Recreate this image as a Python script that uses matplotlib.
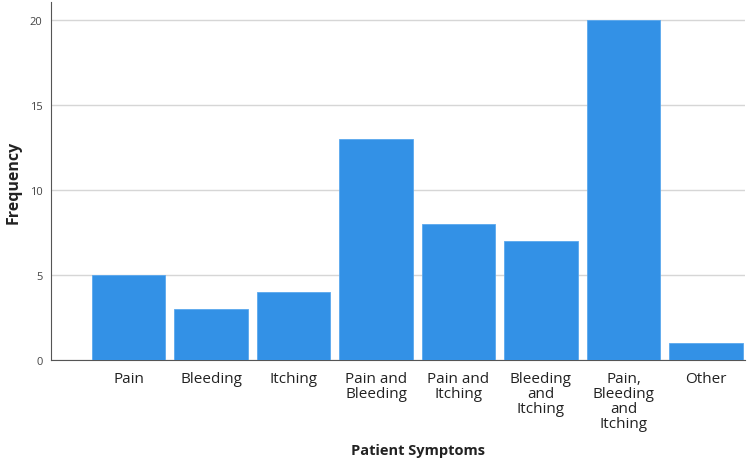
import matplotlib.pyplot as plt

plt.rcParams['font.family'] = ['Open Sans', 'DejaVu Sans']

categories = ['Pain', 'Bleeding', 'Itching', 'Pain and\nBleeding', 'Pain and\nItching',
              'Bleeding\nand\nItching', 'Pain,\nBleeding\nand\nItching', 'Other']
frequency = [5, 3, 4, 13, 8, 7, 20, 1]
y_ticks = [0, 5, 10, 15, 20]

fig = plt.figure(figsize=(7.5, 4.6), dpi=100)
ax = fig.add_axes([0.068, 0.215, 0.925, 0.778])

x = list(range(len(categories)))
ax.bar(x, frequency, width=0.89, color='#3391E6', edgecolor='#5AA8EE', linewidth=0.6, zorder=3)

ax.set_xlim(-0.94, 7.47)
ax.set_ylim(0, 21.06)
ax.set_yticks(y_ticks)
ax.set_yticklabels([str(v) for v in y_ticks], fontsize=8, color='#444444')
ax.set_xticks(x)
ax.set_xticklabels(categories, fontsize=11, color='#222222', linespacing=0.98)
ax.tick_params(axis='both', length=0)
ax.tick_params(axis='x', pad=8)
ax.tick_params(axis='y', pad=6)

ax.grid(axis='y', color='#d6d6d6', linewidth=1, zorder=0)
for s in ['top', 'right']:
    ax.spines[s].set_visible(False)
ax.spines['left'].set_color('#555555')
ax.spines['bottom'].set_color('#555555')
ax.spines['left'].set_linewidth(0.8)
ax.spines['bottom'].set_linewidth(0.8)

ax.set_ylabel('Frequency', fontsize=11.5, fontweight='bold', color='#222222', labelpad=6)
ax.set_xlabel('Patient Symptoms', fontsize=10.5, fontweight='bold', color='#222222')
ax.xaxis.set_label_coords(0.529, -0.232)

fig.savefig('out.png', dpi=100)
